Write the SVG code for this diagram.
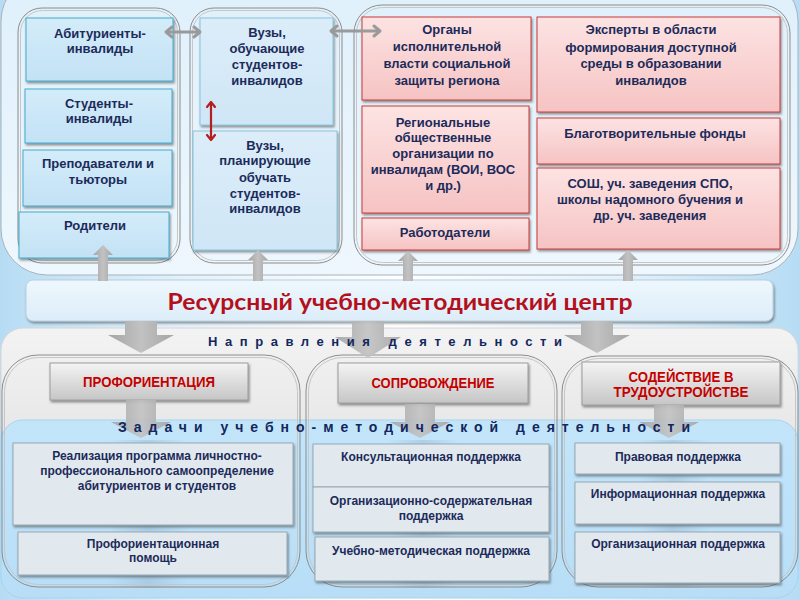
<svg xmlns="http://www.w3.org/2000/svg" width="800" height="600" viewBox="0 0 800 600">
<defs>
<linearGradient id="gBg" x1="0" y1="0" x2="1" y2="0">
<stop offset="0" stop-color="#b6dcf4"/><stop offset="0.22" stop-color="#e2f1fb"/><stop offset="0.5" stop-color="#ffffff"/><stop offset="0.78" stop-color="#e2f1fb"/><stop offset="1" stop-color="#b6dcf4"/>
</linearGradient>
<linearGradient id="gTop" x1="0" y1="0" x2="0" y2="1">
<stop offset="0" stop-color="#dff0fb"/><stop offset="1" stop-color="#eef7fd"/>
</linearGradient>
<linearGradient id="gBlue" x1="0" y1="0" x2="0" y2="1">
<stop offset="0" stop-color="#d4ecf9"/><stop offset="1" stop-color="#c2e2f5"/>
</linearGradient>
<linearGradient id="gBlue2" x1="0" y1="0" x2="0" y2="1">
<stop offset="0" stop-color="#dcedf9"/><stop offset="1" stop-color="#cfe6f6"/>
</linearGradient>
<linearGradient id="gPink" x1="0" y1="0" x2="0" y2="1">
<stop offset="0" stop-color="#fde3e3"/><stop offset="1" stop-color="#f6c3c3"/>
</linearGradient>
<linearGradient id="gGray" x1="0" y1="0" x2="0" y2="1">
<stop offset="0" stop-color="#f4f4f4"/><stop offset="1" stop-color="#c6c6c6"/>
</linearGradient>
<linearGradient id="gGrayPanel" x1="0" y1="0" x2="0" y2="1">
<stop offset="0" stop-color="#f3f3f3"/><stop offset="1" stop-color="#e6e6e6"/>
</linearGradient>
<linearGradient id="gBluePanel" x1="0" y1="0" x2="0" y2="1">
<stop offset="0" stop-color="#c2e5fa"/><stop offset="1" stop-color="#b8def7"/>
</linearGradient>
<linearGradient id="gBar" x1="0" y1="0" x2="0" y2="1">
<stop offset="0" stop-color="#eef7fd"/><stop offset="1" stop-color="#dcedf9"/>
</linearGradient>
<linearGradient id="gArr" x1="0" y1="0" x2="1" y2="0">
<stop offset="0" stop-color="#a4a4a4"/><stop offset="0.5" stop-color="#c2c2c2"/><stop offset="1" stop-color="#a4a4a4"/>
</linearGradient>
<linearGradient id="gStreak" x1="0" y1="0" x2="1" y2="0">
<stop offset="0" stop-color="#7d9cb4" stop-opacity="0"/><stop offset="0.5" stop-color="#7d9cb4" stop-opacity="0.28"/><stop offset="1" stop-color="#7d9cb4" stop-opacity="0"/>
</linearGradient>
<filter id="sh" x="-5%" y="-5%" width="112%" height="125%">
<feDropShadow dx="1.2" dy="2" stdDeviation="0.8" flood-color="#444" flood-opacity="0.55"/>
</filter>
</defs>
<style>
.t { font-family: "Liberation Sans", Arial, sans-serif; font-weight: bold; fill: #1c2b5a; text-anchor: middle; font-size: 13px; }
.s { font-size: 12px; }
.red { fill: #c40000; font-size: 14px; }
.blue { fill: url(#gBlue); stroke: #45abcd; stroke-width: 1; filter: url(#sh); }
.blue2 { fill: url(#gBlue2); stroke: #86c4de; stroke-width: 1; filter: url(#sh); }
.pink { fill: url(#gPink); stroke: #c93a3a; stroke-width: 1; filter: url(#sh); }
.gbox { fill: url(#gGray); stroke: #9c9c9c; stroke-width: 1; filter: url(#sh); }
.lbox { fill: #e2e9ee; stroke: #97a7b3; stroke-width: 1; filter: url(#sh); }
.po { fill: none; stroke: #8c8c8c; stroke-width: 1; }
.pi { fill: none; stroke: #c6c6c6; stroke-width: 1; }
.arr { fill: url(#gArr); }
.head { font-family: "Liberation Sans", Arial, sans-serif; font-weight: bold; fill: #12275e; font-size: 13px; }
</style>

<rect x="0" y="0" width="800" height="600" fill="url(#gBg)"/>

<g id="panels">
<rect x="1" y="-25" width="797" height="300" rx="46" fill="url(#gTop)" stroke="#a9b2ba" stroke-width="1"/>
<rect x="18" y="8" width="162" height="255" rx="24" fill="#f2f9fd" fill-opacity="0.5" class="po"/>
<rect x="20.5" y="10.5" width="157" height="250" rx="22" class="pi"/>
<rect x="190" y="8" width="152" height="255" rx="24" fill="#f2f9fd" fill-opacity="0.5" class="po"/>
<rect x="192.5" y="10.5" width="147" height="250" rx="22" class="pi"/>
<rect x="354" y="5" width="436" height="260" rx="28" class="po"/>
<rect x="356.5" y="7.5" width="431" height="255" rx="26" class="pi"/>
<rect x="1" y="328" width="797" height="120" rx="22" fill="url(#gGrayPanel)" stroke="#d6d6d6"/>
<rect x="1" y="420" width="797" height="178" rx="22" fill="url(#gBluePanel)" stroke="#a9d2ec"/>
<rect x="108" y="440" width="80" height="148" fill="url(#gStreak)"/>
<rect x="388" y="440" width="70" height="148" fill="url(#gStreak)"/>
<rect x="638" y="440" width="70" height="148" fill="url(#gStreak)"/>
<rect x="2" y="355" width="298" height="232" rx="36" class="po"/>
<rect x="4.5" y="357.5" width="293" height="227" rx="34" class="pi"/>
<rect x="306" y="355" width="251" height="232" rx="36" class="po"/>
<rect x="308.5" y="357.5" width="246" height="227" rx="34" class="pi"/>
<rect x="562" y="356" width="236" height="231" rx="36" class="po"/>
<rect x="564.5" y="358.5" width="231" height="226" rx="34" class="pi"/>
</g>

<g id="n-abit"><rect x="26" y="18" width="147" height="63" class="blue"/>
<text class="t" x="100" y="37.5">Абитуриенты-</text><text class="t" x="100" y="52.5">инвалиды</text></g>
<g id="n-stud"><rect x="25" y="89" width="147" height="54" class="blue"/>
<text class="t" x="99" y="107.5">Студенты-</text><text class="t" x="99" y="122.5">инвалиды</text></g>
<g id="n-prep"><rect x="23" y="150" width="149" height="56" class="blue"/>
<text class="t" x="98" y="167.5">Преподаватели и</text><text class="t" x="98" y="183.5">тьюторы</text></g>
<g id="n-rod"><rect x="19" y="212" width="150" height="46" class="blue"/>
<text class="t" x="95" y="229.5">Родители</text></g>
<g id="n-vuz1"><rect x="200" y="18" width="133" height="107" class="blue2"/>
<text class="t" x="267" y="36.5">Вузы,</text><text class="t" x="267" y="52.5">обучающие</text><text class="t" x="267" y="68.5">студентов-</text><text class="t" x="267" y="84.5">инвалидов</text></g>
<g id="n-vuz2"><rect x="193" y="131" width="144" height="119" class="blue2"/>
<text class="t" x="265" y="149.5">Вузы,</text><text class="t" x="265" y="165">планирующие</text><text class="t" x="265" y="181.5">обучать</text><text class="t" x="265" y="197.5">студентов-</text><text class="t" x="265" y="213">инвалидов</text></g>

<g id="n-organy"><rect x="362" y="17" width="169" height="83" class="pink"/>
<text class="t" x="447" y="33.5">Органы</text><text class="t" x="447" y="50.5">исполнительной</text><text class="t" x="447" y="67.5">власти социальной</text><text class="t" x="447" y="84.5">защиты региона</text></g>
<g id="n-region"><rect x="362" y="106" width="167" height="107" class="pink"/>
<text class="t" x="443" y="126.5">Региональные</text><text class="t" x="443" y="142">общественные</text><text class="t" x="443" y="158">организации по</text><text class="t" x="443" y="174">инвалидам (ВОИ, ВОС</text><text class="t" x="443" y="190">и др.)</text></g>
<g id="n-rabot"><rect x="362" y="218" width="167" height="32" class="pink"/>
<text class="t" x="445" y="236.5">Работодатели</text></g>
<g id="n-expert"><rect x="537" y="17" width="243" height="95" class="pink"/>
<text class="t" x="651" y="33.5">Эксперты в области</text><text class="t" x="651" y="51.5">формирования доступной</text><text class="t" x="651" y="67.5">среды в образовании</text><text class="t" x="651" y="84.5">инвалидов</text></g>
<g id="n-blag"><rect x="537" y="118" width="243" height="46" class="pink"/>
<text class="t" x="655" y="137.5">Благотворительные фонды</text></g>
<g id="n-sosh"><rect x="537" y="168" width="243" height="81" class="pink"/>
<text class="t" x="650" y="187.5">СОШ, уч. заведения СПО,</text><text class="t" x="650" y="203.5">школы надомного бучения и</text><text class="t" x="650" y="219.5">др. уч. заведения</text></g>

<g id="n-center"><rect x="26" y="280" width="747" height="41" rx="7" fill="url(#gBar)" stroke="#b8cfdf" stroke-width="1" filter="url(#sh)"/>
<text x="400" y="310" text-anchor="middle" font-family="Lato, 'Open Sans', sans-serif" font-weight="bold" font-size="23" fill="#b4101c" textLength="465" lengthAdjust="spacingAndGlyphs">Ресурсный учебно-методический центр</text></g>

<g id="n-proforient"><rect x="50" y="363" width="198" height="37" class="gbox"/>
<text class="t red" x="149" y="387" textLength="132" lengthAdjust="spacingAndGlyphs">ПРОФОРИЕНТАЦИЯ</text></g>
<g id="n-soprov"><rect x="338" y="363" width="190" height="40" class="gbox"/>
<text class="t red" x="433" y="388" textLength="123" lengthAdjust="spacingAndGlyphs">СОПРОВОЖДЕНИЕ</text></g>
<g id="n-sodeistv"><rect x="582" y="362" width="198" height="43" class="gbox"/>
<text class="t red" x="681" y="382" textLength="105" lengthAdjust="spacingAndGlyphs">СОДЕЙСТВИЕ В</text><text class="t red" x="681" y="397" textLength="135" lengthAdjust="spacingAndGlyphs">ТРУДОУСТРОЙСТВЕ</text></g>

<g id="n-realiz"><rect x="13" y="443" width="280" height="82" class="lbox"/>
<text class="t s" x="157" y="459.5">Реализация программа личностно-</text><text class="t s" x="157" y="474.5">профессионального самоопределение</text><text class="t s" x="157" y="489.5">абитуриентов и студентов</text></g>
<g id="n-pomosh"><rect x="18" y="532" width="269" height="43" class="lbox"/>
<text class="t s" x="153" y="547.5">Профориентационная</text><text class="t s" x="153" y="561.5">помощь</text></g>
<g id="n-konsult"><rect x="313" y="444" width="236" height="43" class="lbox"/>
<text class="t s" x="431" y="461">Консультационная поддержка</text></g>
<g id="n-orgsod"><rect x="313" y="487" width="236" height="45" class="lbox"/>
<text class="t s" x="431" y="504.5">Организационно-содержательная</text><text class="t s" x="431" y="519.5">поддержка</text></g>
<g id="n-uchmet"><rect x="315" y="537" width="234" height="44" class="lbox"/>
<text class="t s" x="431" y="554.5">Учебно-методическая поддержка</text></g>
<g id="n-pravo"><rect x="575" y="443" width="205" height="31" class="lbox"/>
<text class="t s" x="678" y="460.5">Правовая поддержка</text></g>
<g id="n-inform"><rect x="575" y="482" width="205" height="42" class="lbox"/>
<text class="t s" x="678" y="497.5">Информационная поддержка</text></g>
<g id="n-organiz"><rect x="575" y="532" width="205" height="51" class="lbox"/>
<text class="t s" x="678" y="547.5">Организационная поддержка</text></g>

<g id="connectors">
<polygon class="arr" points="98,281 98,255 93,255 103,245 113,255 108,255 108,281"/>
<polygon class="arr" points="253,281 253,260 248,260 258,250 268,260 263,260 263,281"/>
<polygon class="arr" points="403,281 403,261 398,261 408,251 418,261 413,261 413,281"/>
<polygon class="arr" points="623,281 623,260 618,260 628,250 638,260 633,260 633,281"/>
<polygon class="arr" points="125,321 157,321 157,335 174,335 141,353 108,335 125,335"/>
<polygon class="arr" points="352,321 384,321 384,337 401,337 368,358 335,337 352,337" opacity="0.9"/>
<polygon class="arr" points="581,321 613,321 613,335 630,335 597,353 564,335 581,335"/>
<polygon class="arr" points="126,400 156,400 156,422 171,422 141,438 111,422 126,422" opacity="0.9"/>
<polygon class="arr" points="405,404 435,404 435,422 450,422 420,438 390,422 405,422" opacity="0.9"/>
<polygon class="arr" points="654,405 684,405 684,422 699,422 669,438 639,422 654,422" opacity="0.9"/>
<g fill="none" stroke="#9a9a9a" stroke-width="3" stroke-linecap="round" stroke-linejoin="round">
<path d="M168,32 H198"/><path d="M172,27 L166,32 L172,37"/><path d="M194,27 L200,32 L194,37"/>
<path d="M333,31 H378"/><path d="M337,26 L331,31 L337,36"/><path d="M374,26 L380,31 L374,36"/>
</g>
<g fill="none" stroke="#b41e1e" stroke-width="2.2" stroke-linecap="round" stroke-linejoin="round">
<path d="M211,103 V139"/><path d="M207,107 L211,102 L215,107"/><path d="M207,135 L211,140 L215,135"/>
</g>
</g>

<g id="headings">
<text class="head" x="208" y="346" textLength="354" lengthAdjust="spacing">Направления деятельности</text>
<text class="head" x="118" y="432" font-size="14" textLength="572" lengthAdjust="spacing" style="font-size:14px">Задачи учебно-методической деятельности</text>
</g>
</svg>
